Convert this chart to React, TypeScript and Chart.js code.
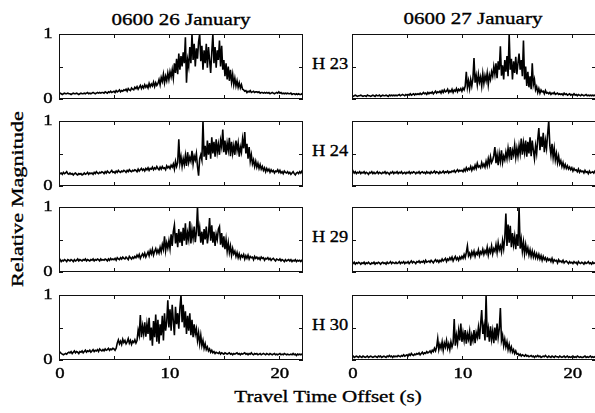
import React, { useEffect, useRef } from "react";
import { Chart, registerables } from "chart.js";

Chart.register(...registerables);

// ---------- data ----------
const X_STEP = 0.1;
const X_MAX = 22.2;
const X_TICKS = [0, 5, 10, 15, 20];
const X_TICK_LABELS = [0, 10, 20];
const Y_TICKS = [0, 0.5, 1];
const Y_TICK_LABELS = [0, 1];

const columnTitles = ["0600 26 January", "0600 27 January"];
const rowLabels = ["H 23", "H 24", "H 29", "H 30"];
const xAxisTitle = "Travel Time Offset (s)";
const yAxisTitle = "Relative Magnitude";

// one row = one second (10 samples at 0.1 s)
const jan26H23 = [
  .08, .09, .08, .07, .08, .09, .08, .08, .09, .08,
  .08, .07, .08, .09, .08, .08, .09, .08, .07, .08,
  .09, .08, .08, .09, .08, .09, .10, .08, .09, .08,
  .09, .10, .09, .08, .09, .10, .09, .10, .09, .10,
  .10, .09, .11, .10, .09, .11, .10, .12, .10, .11,
  .12, .10, .13, .11, .12, .14, .11, .13, .12, .14,
  .13, .15, .12, .16, .14, .13, .17, .15, .14, .18,
  .16, .19, .15, .18, .21, .16, .20, .17, .22, .18,
  .21, .17, .24, .19, .23, .20, .26, .19, .25, .21,
  .24, .30, .22, .33, .27, .38, .25, .35, .28, .40,
  .30, .42, .34, .45, .32, .55, .40, .62, .38, .70,
  .45, .66, .50, .72, .55, .95, .25, .60, .50, .80,
  .55, 1.0, .60, .85, .50, .78, .62, .88, 1.0, .58,
  .82, .45, .75, .55, .85, .48, .80, .60, .40, .72,
  1.0, .55, .80, .48, .75, .60, .90, .50, .82, .45,
  .60, .35, .55, .30, .50, .28, .45, .26, .38, .22,
  .32, .20, .28, .18, .25, .17, .22, .15, .14, .12,
  .13, .10, .12, .11, .13, .10, .11, .12, .10, .11,
  .11, .10, .11, .09, .10, .10, .09, .10, .09, .10,
  .09, .10, .08, .09, .10, .09, .08, .09, .10, .09,
  .11, .09, .10, .08, .09, .08, .09, .08, .09, .08,
  .08, .09, .07, .08, .08, .07, .08, .07, .08, .07,
  .07, .08, .07,
];
const jan27H23 = [
  .05, .04, .05, .06, .05, .04, .05, .05, .06, .05,
  .04, .05, .05, .04, .06, .05, .05, .04, .05, .06,
  .05, .04, .06, .05, .05, .06, .04, .05, .06, .05,
  .05, .06, .05, .04, .06, .05, .06, .05, .06, .05,
  .06, .05, .06, .07, .05, .06, .07, .06, .05, .07,
  .06, .07, .06, .08, .06, .07, .08, .06, .08, .07,
  .08, .07, .09, .07, .08, .10, .08, .09, .07, .10,
  .08, .10, .09, .11, .08, .10, .12, .09, .11, .10,
  .12, .09, .13, .10, .14, .11, .12, .15, .10, .13,
  .11, .15, .10, .14, .12, .16, .11, .15, .13, .16,
  .12, .17, .14, .20, .42, .18, .28, .16, .30, .20,
  .31, .63, .25, .36, .22, .38, .26, .34, .20, .39,
  .24, .36, .28, .40, .22, .37, .30, .42, .35, .50,
  .38, .55, .32, .58, .45, .81, .36, .52, .30, .60,
  .42, .66, .35, 1.0, .45, .62, .30, .58, .40, .65,
  .38, .55, .70, .45, .60, .35, .90, .30, .50, .20,
  .42, .18, .35, .15, .55, .22, .30, .14, .19, .10,
  .16, .09, .14, .11, .12, .08, .13, .09, .10, .08,
  .10, .07, .09, .08, .10, .07, .08, .09, .07, .08,
  .07, .08, .06, .09, .07, .08, .06, .07, .08, .06,
  .07, .06, .08, .06, .07, .05, .07, .06, .05, .07,
  .06, .05, .06, .07, .05, .06, .05, .06, .05, .06,
  .05, .06, .05,
];
const jan26H24 = [
  .21, .19, .20, .18, .21, .19, .20, .22, .19, .18,
  .20, .18, .19, .17, .19, .20, .18, .17, .19, .18,
  .19, .17, .18, .20, .18, .19, .21, .18, .20, .19,
  .20, .18, .21, .19, .22, .20, .19, .21, .20, .22,
  .21, .19, .22, .20, .23, .21, .20, .22, .24, .21,
  .22, .20, .23, .21, .24, .22, .21, .23, .22, .24,
  .23, .21, .24, .22, .25, .23, .22, .24, .23, .25,
  .24, .22, .26, .23, .25, .27, .24, .26, .23, .27,
  .25, .28, .24, .27, .26, .29, .25, .28, .26, .30,
  .27, .25, .29, .26, .30, .27, .28, .25, .31, .28,
  .30, .27, .32, .29, .34, .26, .38, .30, .36, .72,
  .35, .45, .30, .42, .33, .47, .31, .52, .36, .44,
  .38, .54, .34, .46, .40, .50, .30, .16, .42, .48,
  .40, 1.0, .45, .62, .40, .70, .48, .66, .42, .75,
  .50, .68, .45, .72, .52, .64, .48, .70, .60, .87,
  .52, .70, .48, .66, .55, .74, .46, .68, .50, .62,
  .48, .70, .55, .66, .45, .60, .52, .72, .58, .83,
  .50, .65, .42, .60, .38, .48, .34, .40, .30, .38,
  .29, .35, .27, .33, .26, .30, .24, .28, .22, .27,
  .23, .26, .21, .25, .22, .24, .20, .23, .22, .25,
  .21, .24, .20, .22, .19, .23, .21, .20, .22, .19,
  .21, .18, .20, .22, .19, .17, .20, .21, .19, .22,
  .20, .23, .21,
];
const jan27H24 = [
  .26, .23, .20, .22, .19, .21, .20, .22, .19, .21,
  .20, .22, .19, .21, .20, .18, .21, .20, .22, .19,
  .21, .19, .20, .22, .19, .21, .20, .19, .21, .20,
  .22, .19, .21, .20, .18, .21, .20, .22, .19, .21,
  .20, .22, .19, .21, .20, .22, .19, .20, .21, .19,
  .21, .20, .22, .19, .21, .20, .22, .21, .19, .21,
  .20, .22, .19, .21, .22, .20, .21, .19, .22, .20,
  .21, .19, .22, .20, .21, .23, .20, .22, .21, .19,
  .22, .20, .21, .23, .20, .22, .21, .23, .20, .22,
  .21, .23, .22, .24, .21, .23, .25, .22, .24, .23,
  .24, .22, .26, .23, .28, .24, .27, .25, .30, .24,
  .29, .26, .32, .27, .35, .29, .31, .28, .36, .30,
  .34, .29, .38, .31, .42, .33, .45, .36, .40, .47,
  .60, .35, .48, .32, .50, .38, .55, .36, .46, .40,
  .52, .42, .58, .45, .60, .40, .55, .48, .63, .44,
  .58, .46, .62, .50, .73, .48, .66, .52, .70, .45,
  .68, .50, .75, .46, .70, .55, .42, .62, .50, .72,
  .89, .55, .76, .60, .82, .52, .70, .58, .80, 1.0,
  .62, .48, .65, .44, .58, .40, .50, .36, .46, .34,
  .39, .30, .36, .28, .33, .27, .31, .26, .29, .25,
  .28, .23, .27, .24, .25, .22, .26, .21, .24, .22,
  .23, .20, .24, .21, .22, .19, .23, .20, .21, .22,
  .20, .23, .21,
];
const jan26H29 = [
  .17, .19, .16, .18, .17, .19, .18, .16, .19, .18,
  .17, .19, .18, .16, .19, .17, .18, .20, .17, .19,
  .18, .17, .19, .18, .20, .17, .19, .18, .17, .19,
  .18, .20, .17, .19, .18, .20, .19, .17, .20, .18,
  .19, .18, .20, .19, .17, .20, .18, .21, .19, .20,
  .19, .21, .18, .22, .20, .19, .22, .20, .23, .21,
  .20, .23, .21, .19, .24, .22, .20, .23, .21, .24,
  .22, .26, .23, .27, .21, .25, .28, .24, .29, .23,
  .27, .31, .25, .33, .28, .35, .26, .32, .36, .29,
  .34, .29, .38, .31, .42, .35, .55, .33, .45, .37,
  .48, .36, .58, .40, .62, .72, .44, .60, .38, .66,
  .45, .62, .40, .68, .48, .75, .42, .60, .50, .78,
  .44, .65, .52, .70, .46, .62, 1.0, .55, .68, .45,
  .62, .42, .66, .50, .70, .44, .58, .83, .48, .72,
  .45, .62, .40, .58, .50, .66, .70, .42, .60, .38,
  .55, .35, .50, .32, .45, .30, .40, .26, .36, .28,
  .32, .24, .30, .22, .28, .21, .26, .23, .27, .20,
  .25, .21, .26, .20, .24, .22, .23, .19, .24, .21,
  .23, .20, .22, .19, .23, .21, .22, .18, .21, .20,
  .22, .19, .21, .18, .20, .21, .19, .17, .20, .19,
  .18, .20, .17, .19, .18, .16, .19, .17, .18, .19,
  .17, .19, .16, .18, .17, .19, .16, .18, .17, .18,
  .16, .18, .17,
];
const jan27H29 = [
  .14, .13, .15, .12, .14, .13, .15, .14, .12, .14,
  .13, .15, .12, .14, .13, .15, .13, .12, .14, .13,
  .15, .12, .14, .13, .15, .14, .12, .14, .15, .13,
  .14, .12, .15, .13, .14, .16, .13, .15, .14, .13,
  .15, .13, .14, .16, .13, .15, .14, .16, .13, .15,
  .14, .16, .13, .15, .17, .14, .16, .15, .13, .16,
  .15, .17, .14, .16, .15, .17, .14, .18, .15, .16,
  .17, .15, .18, .16, .14, .17, .19, .16, .18, .15,
  .18, .16, .20, .17, .19, .21, .16, .20, .18, .22,
  .19, .23, .17, .21, .24, .19, .22, .18, .23, .20,
  .24, .21, .27, .22, .30, .40, .25, .29, .23, .31,
  .26, .32, .24, .30, .27, .34, .25, .31, .28, .35,
  .27, .33, .29, .38, .26, .35, .30, .40, .28, .36,
  .32, .42, .30, .45, .34, .40, .31, .48, .36, .52,
  .90, .40, .73, .45, .71, .38, .60, .42, .55, .35,
  .58, .40, 1.0, .36, .50, .32, .46, .28, .42, .30,
  .37, .26, .34, .24, .32, .23, .30, .22, .28, .21,
  .27, .20, .25, .18, .24, .19, .22, .17, .21, .18,
  .20, .16, .21, .15, .19, .17, .18, .14, .19, .16,
  .17, .15, .18, .14, .16, .17, .15, .13, .16, .14,
  .15, .13, .16, .14, .15, .12, .16, .14, .13, .15,
  .14, .12, .15, .13, .14, .16, .13, .14, .12, .15,
  .13, .14, .15,
];
const jan26H30 = [
  .14, .12, .10, .09, .08, .09, .10, .09, .11, .12,
  .11, .13, .10, .12, .14, .11, .13, .12, .10, .13,
  .12, .14, .11, .13, .15, .12, .14, .13, .15, .12,
  .14, .16, .13, .15, .14, .16, .13, .17, .15, .14,
  .16, .14, .17, .15, .16, .18, .15, .17, .16, .18,
  .17, .15, .18, .26, .31, .25, .29, .24, .32, .27,
  .30, .25, .28, .33, .26, .30, .24, .29, .27, .31,
  .26, .30, .46, .38, .69, .35, .52, .40, .58, .36,
  .55, .40, .65, .30, .50, .22, .60, .35, .70, .28,
  .62, .25, .55, .38, .68, .30, .72, .45, .58, .92,
  .50, .78, .45, .85, .60, .38, .82, .55, .72, .48,
  .80, 1.0, .58, .85, .50, .75, .40, .68, .45, .72,
  .38, .62, .35, .55, .40, .48, .30, .42, .25, .38,
  .22, .30, .18, .25, .16, .20, .14, .17, .12, .15,
  .11, .13, .10, .12, .11, .10, .12, .09, .11, .10,
  .09, .11, .10, .09, .10, .11, .09, .10, .08, .10,
  .09, .10, .11, .09, .10, .08, .10, .09, .10, .11,
  .09, .10, .08, .10, .09, .11, .09, .08, .10, .09,
  .10, .08, .09, .10, .08, .09, .10, .09, .08, .10,
  .09, .08, .10, .09, .08, .09, .10, .08, .09, .08,
  .09, .10, .08, .09, .08, .10, .09, .08, .09, .08,
  .08, .09, .08, .10, .08, .09, .07, .09, .08, .09,
  .08, .09, .08,
];
const jan27H30 = [
  .05, .06, .04, .05, .06, .05, .04, .06, .05, .04,
  .06, .05, .04, .05, .06, .04, .05, .06, .05, .04,
  .05, .06, .05, .04, .06, .05, .06, .04, .05, .06,
  .05, .04, .06, .05, .07, .05, .06, .04, .06, .05,
  .06, .05, .07, .06, .05, .07, .06, .08, .06, .07,
  .08, .06, .09, .07, .10, .08, .07, .09, .08, .10,
  .09, .11, .08, .10, .12, .09, .11, .10, .13, .11,
  .12, .14, .11, .15, .13, .18, .14, .20, .33, .16,
  .24, .18, .28, .15, .26, .20, .30, .18, .25, .16,
  .28, .20, .26, .63, .22, .38, .26, .45, .30, .56,
  .28, .42, .30, .46, .25, .40, .32, .44, .22, .38,
  .30, .46, .26, .42, .35, .50, .32, .55, .77, .40,
  .52, .30, 1.0, .35, .48, .28, .52, .32, .45, .26,
  .50, .30, .56, .35, .48, .80, .30, .38, .22, .32,
  .20, .28, .16, .24, .14, .20, .12, .16, .10, .14,
  .09, .10, .07, .09, .06, .08, .07, .06, .08, .06,
  .07, .05, .06, .07, .05, .06, .04, .06, .05, .07,
  .05, .06, .04, .05, .06, .05, .07, .05, .04, .06,
  .05, .04, .06, .05, .04, .06, .05, .05, .04, .06,
  .05, .04, .05, .06, .04, .05, .06, .04, .05, .04,
  .05, .06, .04, .05, .04, .06, .05, .04, .05, .04,
  .04, .05, .06, .04, .05, .04, .05, .06, .04, .05,
  .04, .05, .04,
];

const leftColumn = [jan26H23, jan26H24, jan26H29, jan26H30];
const rightColumn = [jan27H23, jan27H24, jan27H29, jan27H30];

// ---------- layout ----------
const COL_LEFT = [59, 352];
const FRAME_W = 244;
const ROW_TOP = [34, 121, 207, 295];
const FRAME_H = 65;
const FONT = '"Liberation Serif", "Times New Roman", serif';

type PanelProps = {
  values: number[];
  frameLeft: number;
  frameTop: number;
  showY: boolean;
  showX: boolean;
};

function Panel({ values, frameLeft, frameTop, showY, showX }: PanelProps) {
  const ref = useRef<HTMLCanvasElement | null>(null);
  const padL = showY ? 24 : 4;
  const padR = 4;
  const padT = 9;
  const padB = showX ? 26 : 9;
  const cw = FRAME_W + padL + padR;
  const ch = FRAME_H + padT + padB;

  useEffect(() => {
    if (!ref.current) return;
    const pts = values.map((v, i) => ({ x: +(i * X_STEP).toFixed(1), y: v }));
    const framePlugin = {
      id: "frame",
      afterDatasetsDraw(chart: any) {
        const { ctx, chartArea } = chart;
        const xs = chart.scales.x;
        const ys = chart.scales.y;
        const { left, right, top, bottom } = chartArea;
        ctx.save();
        ctx.strokeStyle = "#111";
        ctx.lineWidth = 1;
        ctx.strokeRect(left + 0.5, top + 0.5, right - left - 1, bottom - top - 1);
        ctx.beginPath();
        X_TICKS.forEach((v) => {
          const px = Math.round(xs.getPixelForValue(v)) + 0.5;
          ctx.moveTo(px, bottom);
          ctx.lineTo(px, bottom - 4);
          ctx.moveTo(px, top);
          ctx.lineTo(px, top + 4);
        });
        Y_TICKS.forEach((v) => {
          const py = Math.round(ys.getPixelForValue(v)) + 0.5;
          ctx.moveTo(left, py);
          ctx.lineTo(left + 4, py);
          ctx.moveTo(right, py);
          ctx.lineTo(right - 4, py);
        });
        ctx.stroke();
        ctx.fillStyle = "#000";
        ctx.strokeStyle = "#000";
        ctx.lineWidth = 0.4;
        ctx.font = `15px ${FONT}`;
        ctx.textBaseline = "middle";
        ctx.textAlign = "center";
        const put = (t: string, x: number, y: number) => {
          ctx.save();
          ctx.translate(x, y);
          ctx.scale(1.25, 1);
          ctx.fillText(t, 0, 0);
          ctx.strokeText(t, 0, 0);
          ctx.restore();
        };
        if (showY) {
          Y_TICK_LABELS.forEach((v) => put(String(v), left - 11, ys.getPixelForValue(v)));
        }
        if (showX) {
          X_TICK_LABELS.forEach((v) => put(String(v), xs.getPixelForValue(v) + 1, bottom + 14));
        }
        ctx.restore();
      },
    };
    const chart = new Chart(ref.current, {
      type: "line",
      data: {
        datasets: [
          {
            data: pts,
            borderColor: "#000",
            borderWidth: 1.6,
            pointRadius: 0,
            tension: 0,
            fill: false,
          },
        ],
      },
      options: {
        animation: false,
        responsive: false,
        maintainAspectRatio: false,
        events: [],
        layout: { padding: { left: padL, right: padR, top: padT, bottom: padB } },
        plugins: { legend: { display: false }, tooltip: { enabled: false } },
        scales: {
          x: { type: "linear", min: 0, max: X_MAX, display: false },
          y: { min: 0, max: 1, display: false },
        },
      },
      plugins: [framePlugin],
    });
    return () => chart.destroy();
  }, [values, showX, showY, padL, padB]);

  return (
    <canvas
      ref={ref}
      width={cw}
      height={ch}
      style={{
        position: "absolute",
        left: frameLeft - padL,
        top: frameTop - padT,
        width: cw,
        height: ch,
      }}
    />
  );
}

function Label({
  text,
  x,
  y,
  size,
  sx,
  rotate,
}: {
  text: string;
  x: number;
  y: number;
  size: number;
  sx: number;
  rotate?: boolean;
}) {
  return (
    <div
      style={{
        position: "absolute",
        left: x,
        top: y,
        whiteSpace: "nowrap",
        fontFamily: FONT,
        fontSize: size,
        lineHeight: 1,
        color: "#000",
        WebkitTextStroke: "0.35px #000",
        transform: `translate(-50%, -50%)${rotate ? " rotate(-90deg)" : ""} scaleX(${sx})`,
      }}
    >
      {text}
    </div>
  );
}

export default function App() {
  return (
    <div
      style={{
        position: "fixed",
        left: 0,
        top: 0,
        width: 595,
        height: 413,
        background: "#fff",
        overflow: "hidden",
      }}
    >
      <Label text={columnTitles[0]} x={181} y={20} size={17.5} sx={1.2} />
      <Label text={columnTitles[1]} x={473} y={19} size={17.5} sx={1.2} />
      {rowLabels.map((t, r) => (
        <Label key={t} text={t} x={330} y={ROW_TOP[r] + 29} size={17} sx={1.08} />
      ))}
      <Label text={yAxisTitle} x={18} y={199} size={17.5} sx={1.27} rotate />
      <Label text={xAxisTitle} x={328} y={397} size={17.5} sx={1.2} />
      {leftColumn.map((vals, r) => (
        <Panel
          key={"l" + r}
          values={vals}
          frameLeft={COL_LEFT[0]}
          frameTop={ROW_TOP[r]}
          showY={true}
          showX={r === 3}
        />
      ))}
      {rightColumn.map((vals, r) => (
        <Panel
          key={"r" + r}
          values={vals}
          frameLeft={COL_LEFT[1]}
          frameTop={ROW_TOP[r]}
          showY={false}
          showX={r === 3}
        />
      ))}
    </div>
  );
}
